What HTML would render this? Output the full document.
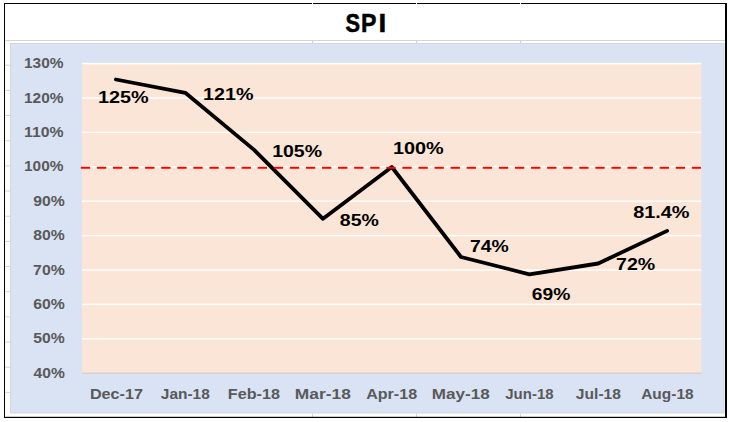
<!DOCTYPE html>
<html><head><meta charset="utf-8"><title>SPI</title>
<style>html,body{margin:0;padding:0;background:#fff;}body{width:729px;height:422px;overflow:hidden;}svg{display:block;}</style>
</head><body>
<svg width="729" height="422" viewBox="0 0 729 422" font-family="'Liberation Sans', Arial, sans-serif" font-weight="bold"><rect x="0" y="0" width="729" height="422" fill="#fff"/><rect x="5" y="40" width="720" height="1" fill="#d4d4d4"/><rect x="5" y="64.67" width="5" height="1" fill="#d4d4d4"/><rect x="5" y="89.84" width="5" height="1" fill="#d4d4d4"/><rect x="5" y="115.01" width="5" height="1" fill="#d4d4d4"/><rect x="5" y="140.18" width="5" height="1" fill="#d4d4d4"/><rect x="5" y="165.35" width="5" height="1" fill="#d4d4d4"/><rect x="5" y="190.52" width="5" height="1" fill="#d4d4d4"/><rect x="5" y="215.69" width="5" height="1" fill="#d4d4d4"/><rect x="5" y="240.86" width="5" height="1" fill="#d4d4d4"/><rect x="5" y="266.03" width="5" height="1" fill="#d4d4d4"/><rect x="5" y="291.20" width="5" height="1" fill="#d4d4d4"/><rect x="5" y="316.37" width="5" height="1" fill="#d4d4d4"/><rect x="5" y="341.54" width="5" height="1" fill="#d4d4d4"/><rect x="5" y="366.71" width="5" height="1" fill="#d4d4d4"/><rect x="5" y="391.88" width="5" height="1" fill="#d4d4d4"/><rect x="312" y="41" width="1" height="2.5" fill="#d4d4d4"/><rect x="312" y="413.5" width="1" height="3.5" fill="#d4d4d4"/><rect x="416" y="41" width="1" height="2.5" fill="#d4d4d4"/><rect x="416" y="413.5" width="1" height="3.5" fill="#d4d4d4"/><rect x="520" y="41" width="1" height="2.5" fill="#d4d4d4"/><rect x="520" y="413.5" width="1" height="3.5" fill="#d4d4d4"/><rect x="10.5" y="43.5" width="713.5" height="369.5" fill="#dae3f3" stroke="#d6d6d6" stroke-width="1"/><rect x="82" y="63.6" width="619.40" height="309.60" fill="#fbe5d6"/><rect x="82" y="62.85" width="619.40" height="1.5" fill="#fff" opacity="0.95"/><rect x="82" y="97.25" width="619.40" height="1.5" fill="#fff" opacity="0.95"/><rect x="82" y="131.65" width="619.40" height="1.5" fill="#fff" opacity="0.95"/><rect x="82" y="166.05" width="619.40" height="1.5" fill="#fff" opacity="0.95"/><rect x="82" y="200.45" width="619.40" height="1.5" fill="#fff" opacity="0.95"/><rect x="82" y="234.85" width="619.40" height="1.5" fill="#fff" opacity="0.95"/><rect x="82" y="269.25" width="619.40" height="1.5" fill="#fff" opacity="0.95"/><rect x="82" y="303.65" width="619.40" height="1.5" fill="#fff" opacity="0.95"/><rect x="82" y="338.05" width="619.40" height="1.5" fill="#fff" opacity="0.95"/><rect x="82" y="372.60" width="619.40" height="1.3" fill="#cfcfcf"/><polyline points="115.9,79.5 185.3,92.8 254.1,149.9 323.0,218.8 391.8,167.0 461.0,257.0 529.4,274.3 598.2,263.5 667.1,230.9" fill="none" stroke="#000" stroke-width="3.8" stroke-linejoin="round" stroke-linecap="round"/><line x1="80.8" y1="167.7" x2="701" y2="167.7" stroke="#ff0000" stroke-width="2.1" stroke-dasharray="9.3 6.78"/><text x="345.52" y="31.90" font-size="24.9" fill="#000" textLength="14.58" lengthAdjust="spacingAndGlyphs" stroke="#000" stroke-width="0.5">S</text><text x="361.10" y="31.90" font-size="24.9" fill="#000" textLength="15.44" lengthAdjust="spacingAndGlyphs" stroke="#000" stroke-width="0.5">P</text><text x="378.49" y="31.90" font-size="24.9" fill="#000" textLength="7.72" lengthAdjust="spacingAndGlyphs" stroke="#000" stroke-width="0.5">I</text><text x="24.03" y="68.20" font-size="14.3" fill="#595959" textLength="39.48" lengthAdjust="spacingAndGlyphs">130%</text><text x="24.03" y="102.60" font-size="14.3" fill="#595959" textLength="39.48" lengthAdjust="spacingAndGlyphs">120%</text><text x="24.03" y="137.00" font-size="14.3" fill="#595959" textLength="39.48" lengthAdjust="spacingAndGlyphs">110%</text><text x="24.03" y="171.40" font-size="14.3" fill="#595959" textLength="39.48" lengthAdjust="spacingAndGlyphs">100%</text><text x="33.25" y="205.80" font-size="14.3" fill="#595959" textLength="31.56" lengthAdjust="spacingAndGlyphs">90%</text><text x="33.30" y="240.20" font-size="14.3" fill="#595959" textLength="31.51" lengthAdjust="spacingAndGlyphs">80%</text><text x="33.12" y="274.60" font-size="14.3" fill="#595959" textLength="31.70" lengthAdjust="spacingAndGlyphs">70%</text><text x="33.22" y="309.00" font-size="14.3" fill="#595959" textLength="31.59" lengthAdjust="spacingAndGlyphs">60%</text><text x="33.32" y="343.40" font-size="14.3" fill="#595959" textLength="31.50" lengthAdjust="spacingAndGlyphs">50%</text><text x="33.56" y="377.80" font-size="14.3" fill="#595959" textLength="31.25" lengthAdjust="spacingAndGlyphs">40%</text><text x="89.92" y="398.70" font-size="14" fill="#595959" textLength="52.99" lengthAdjust="spacingAndGlyphs">Dec-17</text><text x="160.87" y="398.70" font-size="14" fill="#595959" textLength="48.91" lengthAdjust="spacingAndGlyphs">Jan-18</text><text x="227.82" y="398.70" font-size="14" fill="#595959" textLength="52.08" lengthAdjust="spacingAndGlyphs">Feb-18</text><text x="294.84" y="398.70" font-size="14" fill="#595959" textLength="56.00" lengthAdjust="spacingAndGlyphs">Mar-18</text><text x="366.20" y="398.70" font-size="14" fill="#595959" textLength="50.89" lengthAdjust="spacingAndGlyphs">Apr-18</text><text x="431.76" y="398.70" font-size="14" fill="#595959" textLength="57.87" lengthAdjust="spacingAndGlyphs">May-18</text><text x="505.27" y="398.70" font-size="14" fill="#595959" textLength="48.29" lengthAdjust="spacingAndGlyphs">Jun-18</text><text x="575.86" y="398.70" font-size="14" fill="#595959" textLength="45.12" lengthAdjust="spacingAndGlyphs">Jul-18</text><text x="641.22" y="398.70" font-size="14" fill="#595959" textLength="52.36" lengthAdjust="spacingAndGlyphs">Aug-18</text><text x="98.05" y="102.50" font-size="17" fill="#000" textLength="50.67" lengthAdjust="spacingAndGlyphs">125%</text><text x="203.06" y="99.80" font-size="17" fill="#000" textLength="50.36" lengthAdjust="spacingAndGlyphs">121%</text><text x="272.17" y="156.60" font-size="17" fill="#000" textLength="49.84" lengthAdjust="spacingAndGlyphs">105%</text><text x="339.88" y="225.50" font-size="17" fill="#000" textLength="39.03" lengthAdjust="spacingAndGlyphs">85%</text><text x="393.05" y="153.60" font-size="17" fill="#000" textLength="50.67" lengthAdjust="spacingAndGlyphs">100%</text><text x="469.97" y="251.50" font-size="17" fill="#000" textLength="38.74" lengthAdjust="spacingAndGlyphs">74%</text><text x="531.80" y="299.80" font-size="17" fill="#000" textLength="38.51" lengthAdjust="spacingAndGlyphs">69%</text><text x="616.06" y="269.80" font-size="17" fill="#000" textLength="39.16" lengthAdjust="spacingAndGlyphs">72%</text><text x="633.17" y="217.60" font-size="17" fill="#000" textLength="56.35" lengthAdjust="spacingAndGlyphs">81.4%</text><rect x="4" y="3" width="722.5" height="1" fill="#000"/><rect x="4" y="3" width="1" height="415" fill="#000"/><rect x="725" y="3" width="2" height="415" fill="#000"/><rect x="4" y="416.8" width="723" height="1.2" fill="#000"/><rect x="312" y="3" width="1" height="1" fill="#fff"/><rect x="416" y="3" width="1" height="1" fill="#fff"/><rect x="520" y="3" width="1" height="1" fill="#fff"/></svg>
</body></html>
